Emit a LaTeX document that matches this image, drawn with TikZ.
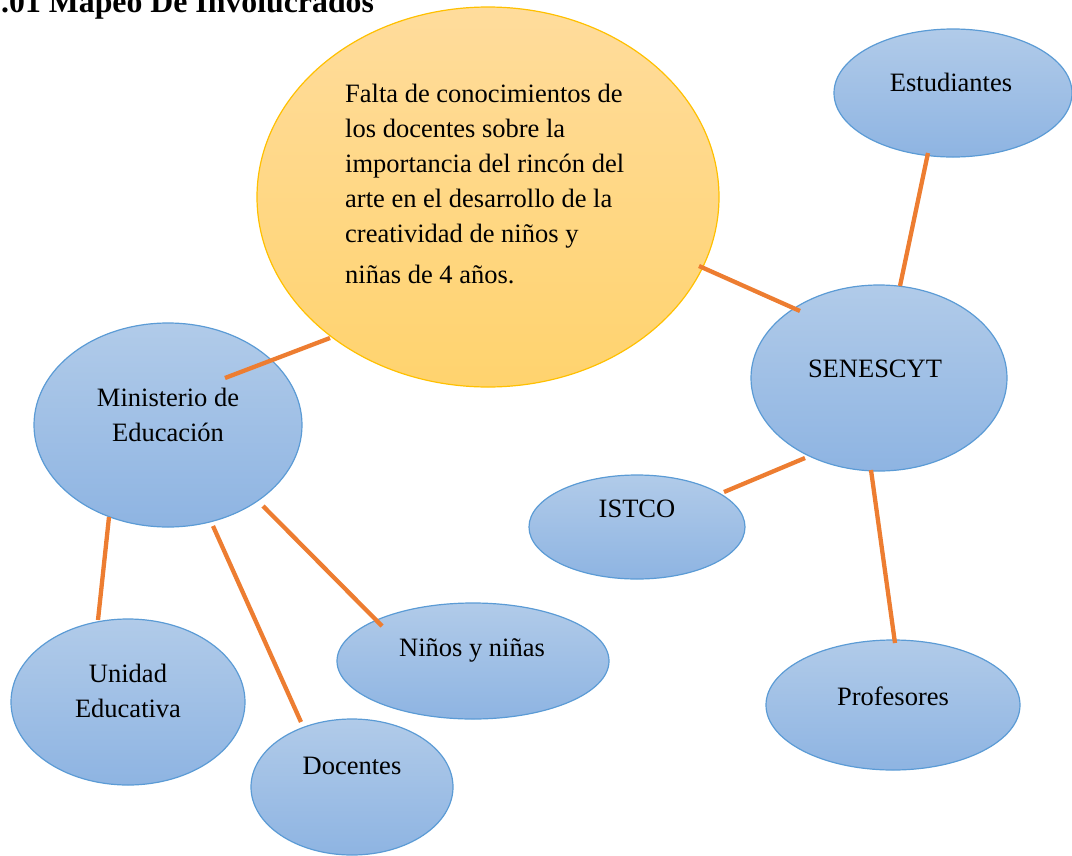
\documentclass[tikz,border=0pt]{standalone}
\usepackage{fontspec}
\setmainfont{Liberation Serif}
\usetikzlibrary{shapes.geometric}
\definecolor{bluetop}{HTML}{B1CBE9}
\definecolor{bluebot}{HTML}{8EB4E2}
\definecolor{blueline}{HTML}{5B9BD5}
\definecolor{yeltop}{HTML}{FFDC9C}
\definecolor{yelbot}{HTML}{FFD36E}
\definecolor{yelline}{HTML}{FFC000}
\definecolor{conn}{HTML}{ED7D31}
\tikzset{
  blueell/.style={ellipse, draw=blueline, line width=1.2pt, top color=bluetop, bottom color=bluebot, inner sep=0pt},
  yelell/.style={ellipse, draw=yelline, line width=1.2pt, top color=yeltop, bottom color=yelbot, inner sep=0pt},
  lbl/.style={font=\fontsize{26.5}{35}\selectfont, inner sep=0pt, anchor=base, align=center},
  link/.style={draw=conn, line width=4.3pt}
}
\begin{document}
\begin{tikzpicture}[x=1pt,y=-1pt]
\useasboundingbox (0,0) rectangle (1072,855);
\begin{scope}
\clip (0,0) rectangle (1072,855);
% title
\node[font=\fontsize{31.8}{36}\selectfont\bfseries, inner sep=0pt, anchor=base west] (title) at (1,12) {.01 Mapeo De Involucrados};
% ellipses
\node[yelell, minimum width=462pt, minimum height=380pt] (prob) at (488,197) {};
\node[blueell, minimum width=238pt, minimum height=128pt] (est) at (953,93) {};
\node[blueell, minimum width=256pt, minimum height=186pt] (sen) at (879,378) {};
\node[blueell, minimum width=216pt, minimum height=104pt] (ist) at (637,527) {};
\node[blueell, minimum width=254pt, minimum height=130pt] (prof) at (893,705) {};
\node[blueell, minimum width=268pt, minimum height=204pt] (min) at (168,425) {};
\node[blueell, minimum width=234pt, minimum height=166pt] (uni) at (128,702) {};
\node[blueell, minimum width=202pt, minimum height=136pt] (doc) at (352,787) {};
\node[blueell, minimum width=272pt, minimum height=116pt] (nin) at (473,661) {};
% connector end points
\coordinate (p1) at (330,338); \coordinate (m1) at (225,378);
\coordinate (p2) at (699,266); \coordinate (s1) at (800,311);
\coordinate (e1) at (928,153); \coordinate (s2) at (900,286);
\coordinate (s3) at (805,458); \coordinate (i1) at (724,492);
\coordinate (s4) at (871,470); \coordinate (r1) at (895,643);
\coordinate (m2) at (109,517); \coordinate (u1) at (98,620);
\coordinate (m3) at (213,526); \coordinate (d1) at (301,722);
\coordinate (m4) at (263,506); \coordinate (n1) at (382,626);
\draw[link] (p1) -- (m1);
\draw[link] (p2) -- (s1);
\draw[link] (e1) -- (s2);
\draw[link] (s3) -- (i1);
\draw[link] (s4) -- (r1);
\draw[link] (m2) -- (u1);
\draw[link] (m3) -- (d1);
\draw[link] (m4) -- (n1);
% texts (base anchor = last line baseline)
\node[lbl, anchor=base west, align=left] (probtxt) at (345,283) {Falta de conocimientos de\\los docentes sobre la\\importancia del rincón del\\arte en el desarrollo de la\\creatividad de niños y\\[6pt]niñas de 4 años.};
\node[lbl] (esttxt) at (951,91) {Estudiantes};
\node[lbl] (sentxt) at (875,377) {SENESCYT};
\node[lbl] (isttxt) at (637,517) {ISTCO};
\node[lbl] (proftxt) at (893,705) {Profesores};
\node[lbl] (mintxt) at (168,441) {Ministerio de\\Educación};
\node[lbl] (unitxt) at (128,717) {Unidad\\Educativa};
\node[lbl] (doctxt) at (352,774) {Docentes};
\node[lbl] (nintxt) at (472,656) {Niños y niñas};
\end{scope}
\end{tikzpicture}
\end{document}
